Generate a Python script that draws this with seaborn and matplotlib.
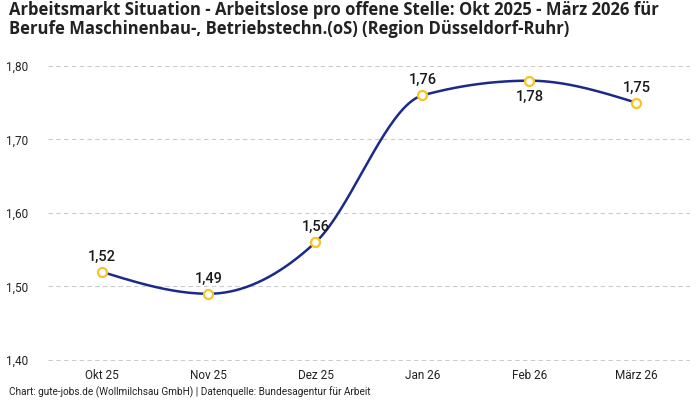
import numpy as np
import pandas as pd
import matplotlib
matplotlib.use("Agg")
import matplotlib.pyplot as plt
import seaborn as sns

# --- data ---
months = ["Okt 25", "Nov 25", "Dez 25", "Jan 26", "Feb 26", "März 26"]
values = [1.52, 1.49, 1.56, 1.76, 1.78, 1.75]
label_below = [False, False, False, False, True, False]

title = ("Arbeitsmarkt Situation - Arbeitslose pro offene Stelle: Okt 2025 - März 2026 für\n"
         "Berufe Maschinenbau-, Betriebstechn.(oS) (Region Düsseldorf-Ruhr)")
footer = "Chart: gute-jobs.de (Wollmilchsau GmbH) | Datenquelle: Bundesagentur für Arbeit"

line_color = "#1b2a8a"
marker_color = "#f7c325"


def monotone_curve(xs, ys, steps=40):
    # monotone cubic (like d3 curveMonotoneX) for the drawn line shape
    xs = np.asarray(xs, float)
    ys = np.asarray(ys, float)
    n = len(xs)
    h = np.diff(xs)
    s = np.diff(ys) / h
    t = np.zeros(n)
    for i in range(1, n - 1):
        p = (s[i - 1] * h[i] + s[i] * h[i - 1]) / (h[i - 1] + h[i])
        t[i] = (np.sign(s[i - 1]) + np.sign(s[i])) * min(abs(s[i - 1]), abs(s[i]), 0.5 * abs(p))
    t[0] = (3 * s[0] - t[1]) / 2
    t[-1] = (3 * s[-1] - t[-2]) / 2
    px, py = [], []
    u = np.linspace(0, 1, steps)
    for i in range(n - 1):
        dx = h[i] / 3
        P = [(xs[i], ys[i]), (xs[i] + dx, ys[i] + dx * t[i]),
             (xs[i + 1] - dx, ys[i + 1] - dx * t[i + 1]), (xs[i + 1], ys[i + 1])]
        b = [(1 - u) ** 3, 3 * (1 - u) ** 2 * u, 3 * (1 - u) * u ** 2, u ** 3]
        px.extend(sum(b[k] * P[k][0] for k in range(4)))
        py.extend(sum(b[k] * P[k][1] for k in range(4)))
    return np.array(px), np.array(py)


sns.set_theme(style="white")
plt.rcParams["font.family"] = ["Roboto", "DejaVu Sans"]

fig = plt.figure(figsize=(7, 4), dpi=100)
ax = fig.add_axes([0.0686, 0.0975, 0.917, 0.7375])

pos = np.arange(len(months))
cx, cy = monotone_curve(pos, values)
curve = pd.DataFrame({"x": cx, "y": cy})
pts = pd.DataFrame({"x": pos, "y": values})

sns.lineplot(data=curve, x="x", y="y", color=line_color, linewidth=1.8,
             sort=False, ax=ax, zorder=3)
sns.scatterplot(data=pts, x="x", y="y", s=42, color="white",
                edgecolor=marker_color, linewidth=1.6, ax=ax, zorder=4)

for x, v, below in zip(pos, values, label_below):
    off = -12 if below else 11
    ax.annotate(f"{v:.2f}".replace(".", ","), (x, v), xytext=(0, off),
                textcoords="offset points", ha="center", va="center",
                fontsize=10.5, fontweight="medium", color="#1a1a1a", zorder=5)

ax.set_xlim(-0.5, 5.5)
ax.set_ylim(1.3985, 1.80)
yt = [1.40, 1.50, 1.60, 1.70, 1.80]
ax.set_yticks(yt)
ax.set_yticklabels([f"{v:.2f}".replace(".", ",") for v in yt], fontsize=8.5, color="#222222")
ax.set_xticks(pos)
ax.set_xticklabels(months, fontsize=8.5, color="#222222")
ax.tick_params(axis="both", length=0)
ax.tick_params(axis="x", pad=6)
ax.tick_params(axis="y", pad=14)
ax.grid(axis="y", linestyle=(0, (4, 3)), color="#cccccc", linewidth=0.8)
ax.grid(axis="x", visible=False)
for sp in ax.spines.values():
    sp.set_visible(False)
ax.set_xlabel("")
ax.set_ylabel("")

fig.text(0.013, 0.997, title, ha="left", va="top", fontsize=12, fontweight="bold",
         color="#222222", linespacing=1.08, family=["Open Sans", "DejaVu Sans"])
fig.text(0.013, 0.006, footer, ha="left", va="bottom", fontsize=7.2, color="#222222")

fig.savefig("out.png", dpi=100)
